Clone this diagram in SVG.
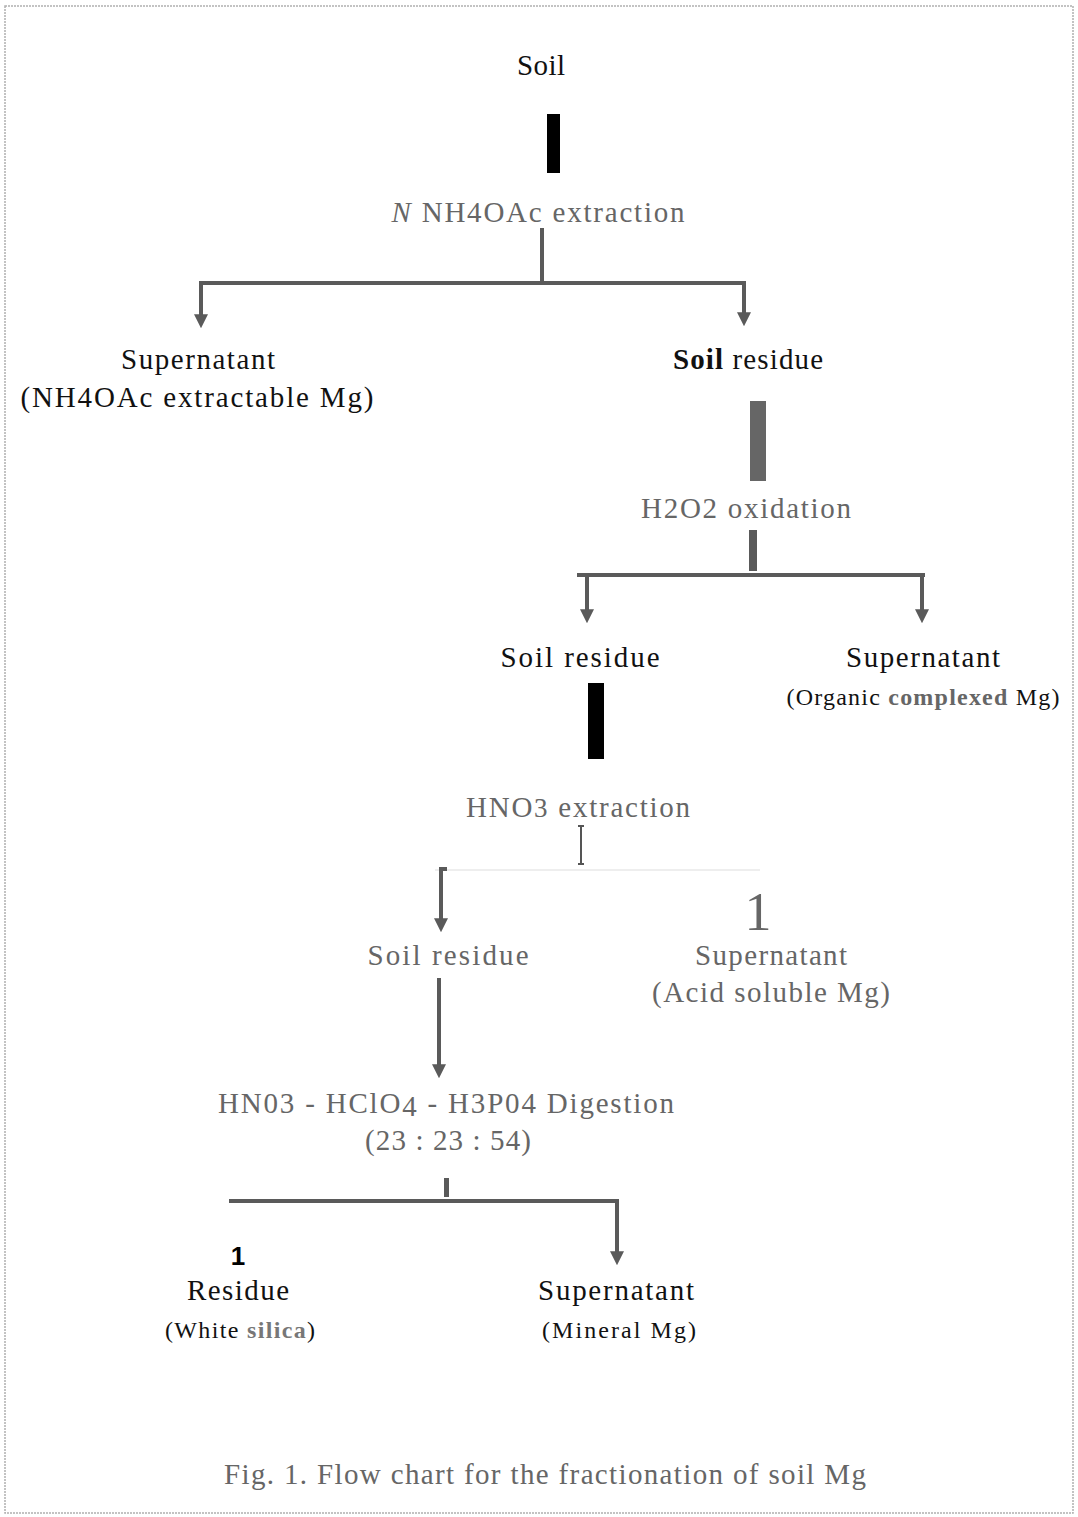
<svg xmlns="http://www.w3.org/2000/svg" width="1078" height="1517" viewBox="0 0 1078 1517">
<style>
text{font-family:"Liberation Serif","Times New Roman",serif;text-anchor:middle}
.m{font-size:29px}
.s{font-size:24px}
.k{fill:#111}
.g{fill:#666}
.ln{stroke:#5a5a5a;fill:none;stroke-width:4}
.ar{stroke:#5a5a5a;fill:none;stroke-width:4;marker-end:url(#ah)}
</style>
<defs>
<marker id="ah" viewBox="0 0 10 10" refX="2" refY="5" markerWidth="3.5" markerHeight="3.5" markerUnits="strokeWidth" orient="auto">
<path d="M0,0 L10,5 L0,10 Z" fill="#5a5a5a"/>
</marker>
</defs>
<rect x="5" y="6" width="1068" height="1507" fill="#fff" stroke="#b0b0b0" stroke-width="1.5" stroke-dasharray="2 1"/>

<g id="connectors">
<rect x="547" y="114" width="13" height="59" fill="#000"/>
<path class="ln" d="M542,228 V283 M199,283 H746"/>
<path class="ar" d="M201,283 V317"/>
<path class="ar" d="M744,283 V315"/>
<rect x="750" y="401" width="16" height="80" fill="#666"/>
<rect x="749" y="530" width="8" height="41" fill="#5a5a5a"/>
<path class="ln" d="M577,575 H925"/>
<path class="ar" d="M587,575 V612"/>
<path class="ar" d="M922,575 V612"/>
<rect x="588" y="683" width="16" height="76" fill="#000"/>
<path d="M581,826 V864 M578,826 H584 M578,864 H584" stroke="#555" stroke-width="2" fill="none"/>
<path d="M435,870 H760" stroke="#eee" stroke-width="2" fill="none"/>
<path class="ar" d="M447,869 H441 V921"/>
<path class="ar" d="M439,978 V1067"/>
<rect x="444" y="1178" width="5" height="19" fill="#5a5a5a"/>
<path class="ln" d="M229,1201 H619"/>
<path class="ar" d="M617,1201 V1254"/>
</g>

<g id="soil"><text class="m k" x="541" y="75" textLength="48">Soil</text></g>
<g id="nh4oac"><text class="m g" x="538" y="222" textLength="293"><tspan font-style="italic">N</tspan> NH4OAc  extraction</text></g>
<g id="sup1"><text class="m k" x="198" y="369" textLength="154">Supernatant</text><text class="m k" x="197" y="407" textLength="353">(NH4OAc  extractable Mg)</text></g>
<g id="res1"><text class="m k" x="748" y="369" textLength="150"><tspan font-weight="bold">Soil</tspan> residue</text></g>
<g id="h2o2"><text class="m g" x="746" y="518" textLength="210">H2O2  oxidation</text></g>
<g id="res2"><text class="m k" x="580" y="667" textLength="159">Soil  residue</text></g>
<g id="sup2"><text class="m k" x="923" y="667" textLength="154">Supernatant</text><text class="s k" x="923" y="705" textLength="273">(Organic <tspan fill="#666" font-weight="bold">complexed</tspan> Mg)</text></g>
<g id="hno3"><text class="m g" x="578" y="817" textLength="224">HNO<tspan font-size="27">3</tspan> extraction</text></g>
<g id="one1"><text class="g" x="758" y="930" font-size="54">1</text></g>
<g id="res3"><text class="m g" x="448" y="965" textLength="161">Soil  residue</text></g>
<g id="sup3"><text class="m g" x="771" y="965" textLength="152">Supernatant</text><text class="m g" x="771" y="1002" textLength="238">(Acid  soluble Mg)</text></g>
<g id="digest"><text class="m g" x="446" y="1113" textLength="456">HN03 - HClO<tspan dy="3">4</tspan><tspan dy="-3"> - H3P04 Digestion</tspan></text><text class="m g" x="448" y="1150" textLength="166">(23 : 23 : 54)</text></g>
<g id="residue"><text x="238" y="1265" font-size="26" font-weight="bold" style="font-family:'Liberation Sans',Arial,sans-serif" fill="#000">1</text><text class="m k" x="238" y="1300" textLength="102">Residue</text><text class="s k" x="240" y="1338" textLength="150">(White <tspan fill="#777" font-weight="bold">silica</tspan>)</text></g>
<g id="sup4"><text class="m k" x="616" y="1300" textLength="156">Supernatant</text><text class="s k" x="619" y="1338" textLength="154">(Mineral  Mg)</text></g>
<g id="caption"><text class="m g" x="545" y="1484" textLength="642">Fig. 1.  Flow chart for the fractionation of soil Mg</text></g>
</svg>
